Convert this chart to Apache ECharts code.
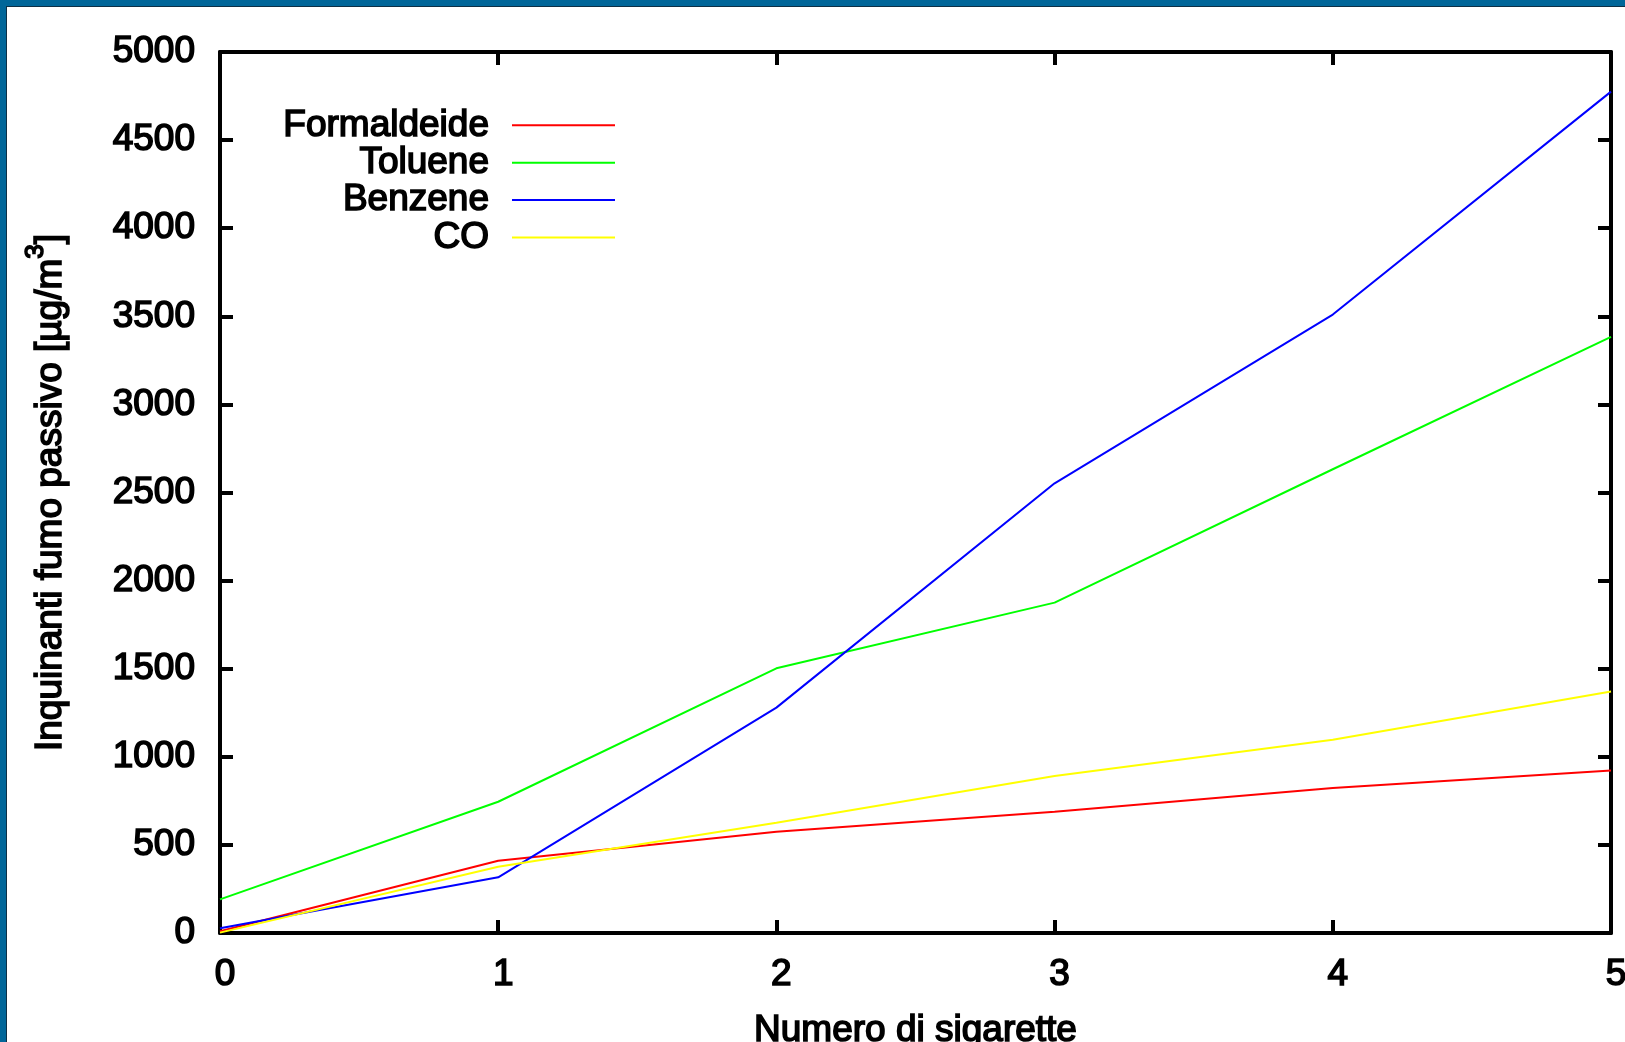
<!DOCTYPE html>
<html><head><meta charset="utf-8">
<script src="https://cdn.jsdelivr.net/npm/echarts@6/dist/echarts.min.js"></script>
<style>
html,body{margin:0;padding:0;background:#006699;width:1625px;height:1042px;overflow:hidden}
#line{position:absolute;left:6px;top:6px;width:1619px;height:1036px;background:#0d2f45}
#chart{position:absolute;left:7px;top:7px;width:1618px;height:1035px;background:#fff}
</style></head><body><div id="line"></div><div id="chart"></div>
<script>
const xValues = [0, 1, 2, 3, 4, 5];
const formaldeide = [10, 410, 575, 688, 823, 922];
const toluene = [191, 745, 1502, 1875, 2632, 3383];
const benzene = [27, 316, 1279, 2552, 3510, 4775];
const co = [2, 376, 626, 891, 1097, 1370];
const seriesNames = ['Formaldeide', 'Toluene', 'Benzene', 'CO'];
const seriesColors = ['#ff0000', '#00ff00', '#0000ff', '#ffff00'];
const xTitle = 'Numero di sigarette';
const yTitle = '{a|Inquinanti fumo passivo [µg/m}{s|3}{a|]}';

const FONT = 'Liberation Sans, Arial, sans-serif';
const allData = [formaldeide, toluene, benzene, co];
const chart = echarts.init(document.getElementById('chart'));
const axisLine = {show: true, onZero: false, lineStyle: {color: '#000', width: 4}};
const axisTick = {show: true, inside: true, length: 13, lineStyle: {color: '#000', width: 4}};
const labelStyle = {fontSize: 37, fontWeight: 'normal', color: '#000', fontFamily: FONT,
  textBorderColor: '#000', textBorderWidth: 1.6};

chart.setOption({
  animation: false,
  backgroundColor: '#fff',
  grid: {left: 213, right: 14, top: 45, bottom: 109, containLabel: false, outerBoundsMode: 'none'},
  legend: {
    orient: 'vertical', right: 1010, top: 99, padding: 0, align: 'right',
    icon: 'rect', itemWidth: 103, itemHeight: 2, itemGap: -1.2, selectedMode: false,
    textStyle: Object.assign({lineHeight: 35, padding: [0, 18, 0, 0]}, labelStyle),
    data: seriesNames
  },
  xAxis: [{
    type: 'value', min: 0, max: 5, interval: 1, position: 'bottom',
    axisLine: axisLine, axisTick: axisTick, splitLine: {show: false},
    axisLabel: Object.assign({margin: 23, padding: [0, 0, 0, 10]}, labelStyle),
    name: xTitle, nameLocation: 'middle', nameGap: 79,
    nameTextStyle: labelStyle
  }, {
    type: 'value', min: 0, max: 5, interval: 1, position: 'top',
    axisLine: axisLine, axisTick: axisTick, splitLine: {show: false},
    axisLabel: {show: false}
  }],
  yAxis: [{
    type: 'value', min: 0, max: 5000, interval: 500, position: 'left',
    axisLine: axisLine, axisTick: axisTick, splitLine: {show: false},
    axisLabel: Object.assign({margin: 25, formatter: v => String(v)}, labelStyle),
    name: yTitle, nameLocation: 'middle', nameGap: 151, nameRotate: 90,
    nameTextStyle: {
      rich: {
        a: Object.assign({verticalAlign: 'bottom'}, labelStyle),
        s: Object.assign({}, labelStyle, {fontSize: 26, verticalAlign: 'top', padding: [0, 0, 20, 0]})
      }
    }
  }, {
    type: 'value', min: 0, max: 5000, interval: 500, position: 'right',
    axisLine: axisLine, axisTick: axisTick, splitLine: {show: false},
    axisLabel: {show: false}
  }],
  series: seriesNames.map((name, k) => ({
    name: name, type: 'line', showSymbol: false, symbol: 'none',
    color: seriesColors[k],
    lineStyle: {width: 2, color: seriesColors[k]},
    data: xValues.map((x, i) => [x, allData[k][i]])
  }))
});
</script></body></html>
